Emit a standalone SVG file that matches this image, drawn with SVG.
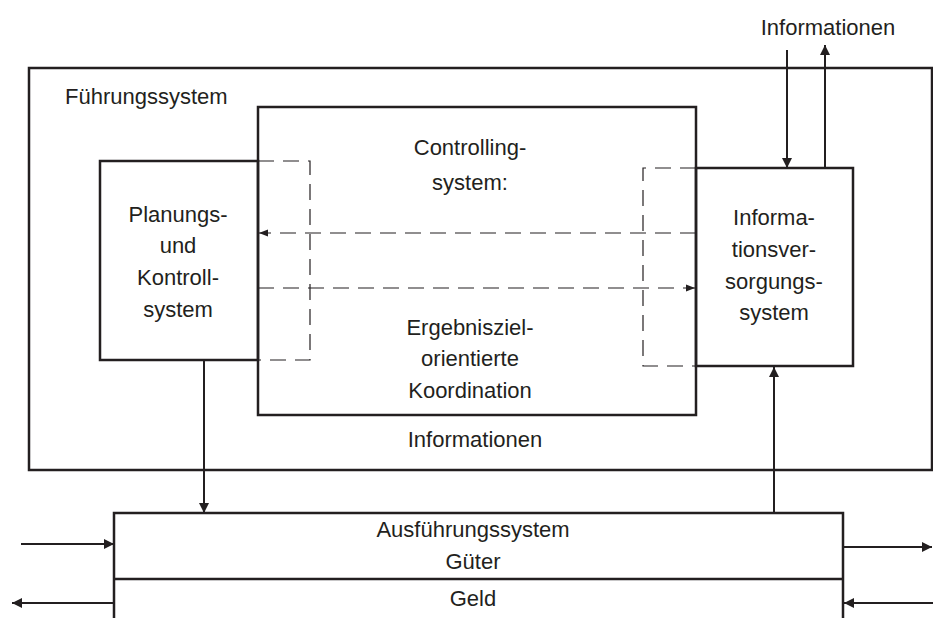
<svg xmlns="http://www.w3.org/2000/svg" width="933" height="618" viewBox="0 0 933 618">
<defs>
<style>
.box{fill:none;stroke:#231f20;stroke-width:2.5}
.line{fill:none;stroke:#231f20;stroke-width:2}
.dash{fill:none;stroke:#231f20;stroke-width:1.2;stroke-dasharray:16 9}
text{font-family:"Liberation Sans",Arial,sans-serif;font-size:22px;fill:#231f20}
.c{text-anchor:middle}
</style>
<marker id="ah" viewBox="0 0 10 10" refX="10" refY="5" markerWidth="10" markerHeight="10" markerUnits="userSpaceOnUse" orient="auto"><path d="M0,0 L10,5 L0,10 z" fill="#231f20"/></marker>
<marker id="ahs" viewBox="0 0 10 10" refX="10" refY="5" markerWidth="9" markerHeight="9" markerUnits="userSpaceOnUse" orient="auto"><path d="M0,1 L10,5 L0,9 z" fill="#231f20"/></marker>
</defs>
<rect width="933" height="618" fill="#fff"/>
<g id="fuehrungssystem">
<rect class="box" x="29" y="68" width="903" height="402"/>
<text x="65" y="104">Führungssystem</text>
</g>
<g id="controlling">
<rect class="box" x="258" y="107" width="438" height="308"/>
<text class="c" x="470" y="155">Controlling-</text>
<text class="c" x="470" y="190">system:</text>
<text class="c" x="470" y="335">Ergebnisziel-</text>
<text class="c" x="470" y="366">orientierte</text>
<text class="c" x="470" y="398">Koordination</text>
<text class="c" x="475" y="447">Informationen</text>
</g>
<g id="planung">
<rect class="box" x="100" y="161" width="158" height="199"/>
<text class="c" x="178" y="222">Planungs-</text>
<text class="c" x="178" y="253">und</text>
<text class="c" x="178" y="285">Kontroll-</text>
<text class="c" x="178" y="317">system</text>
</g>
<g id="informationsversorgung">
<rect class="box" x="696" y="168" width="157" height="198"/>
<text class="c" x="774" y="225">Informa-</text>
<text class="c" x="774" y="257">tionsver-</text>
<text class="c" x="774" y="289">sorgungs-</text>
<text class="c" x="774" y="320">system</text>
</g>
<g id="ausfuehrung">
<path class="box" d="M114,618 V513 H843 V618"/>
<line class="box" x1="114" y1="579" x2="843" y2="579"/>
<text class="c" x="473" y="537">Ausführungssystem</text>
<text class="c" x="473" y="569">Güter</text>
<text class="c" x="473" y="606">Geld</text>
</g>
<g id="top-label">
<text class="c" x="828" y="35">Informationen</text>
</g>
<g id="connectors">
<path class="dash" d="M258,161 H310 V360 H258"/>
<path class="dash" d="M696,168 H643 V366 H696"/>
<line class="dash" x1="696" y1="233" x2="259" y2="233" marker-end="url(#ahs)"/>
<line class="dash" x1="258" y1="288" x2="695" y2="288" marker-end="url(#ahs)"/>
<line class="line" x1="787" y1="50" x2="787" y2="168" marker-end="url(#ah)"/>
<line class="line" x1="825" y1="168" x2="825" y2="45" marker-end="url(#ah)"/>
<line class="line" x1="204" y1="361" x2="204" y2="513" marker-end="url(#ah)"/>
<line class="line" x1="774" y1="513" x2="774" y2="367" marker-end="url(#ah)"/>
<line class="line" x1="21" y1="544" x2="114" y2="544" marker-end="url(#ah)"/>
<line class="line" x1="843" y1="547" x2="932" y2="547" marker-end="url(#ah)"/>
<line class="line" x1="114" y1="603" x2="12" y2="603" marker-end="url(#ah)"/>
<line class="line" x1="933" y1="603" x2="844" y2="603" marker-end="url(#ah)"/>
</g>
</svg>
